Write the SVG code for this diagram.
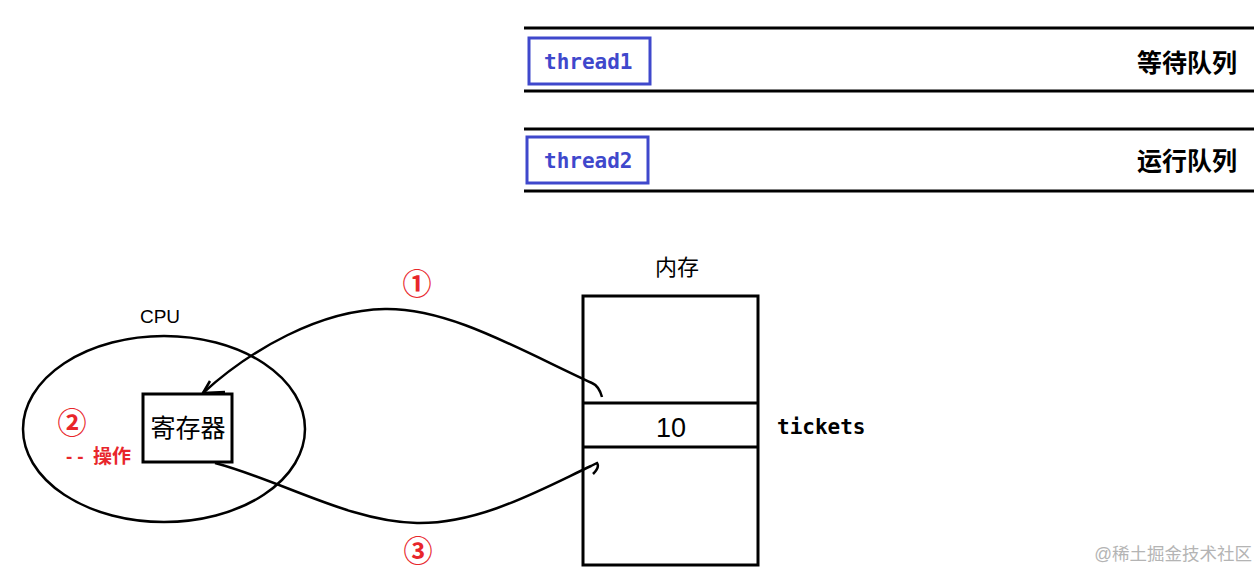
<svg xmlns="http://www.w3.org/2000/svg" width="1258" height="571" viewBox="0 0 1258 571">
<style>
.ln{stroke:#000;stroke-width:3;fill:none}
.thin{stroke:#000;stroke-width:2.5;fill:none}
.tb{fill:none;stroke:#3f48cc;stroke-width:3}
.tt{font-family:"DejaVu Sans Mono","Liberation Mono",monospace;font-size:21px;font-weight:bold;fill:#3f48cc}
.q{font-family:"Liberation Sans","Noto Sans CJK SC",sans-serif;font-size:25px;font-weight:bold;fill:#000}
.cj{font-family:"Liberation Sans","Noto Sans CJK SC",sans-serif;fill:#000}
.red{fill:#e8262b;font-family:"Liberation Sans","Noto Sans CJK SC",sans-serif}
</style>
<rect width="1258" height="571" fill="#fff"/>
<g id="wait-queue">
<line class="ln" x1="524" y1="28" x2="1254" y2="28"/>
<line class="ln" x1="524" y1="91" x2="1254" y2="91"/>
<rect class="tb" x="529" y="38" width="121" height="46"/>
<text class="tt" x="544" y="69">thread1</text>
<text class="q" x="1237" y="72" text-anchor="end">等待队列</text>
</g>
<g id="run-queue">
<line class="ln" x1="524" y1="129" x2="1254" y2="129"/>
<line class="ln" x1="524" y1="191" x2="1254" y2="191"/>
<rect class="tb" x="527" y="137" width="121" height="46"/>
<text class="tt" x="544" y="168">thread2</text>
<text class="q" x="1237" y="170" text-anchor="end">运行队列</text>
</g>
<g id="cpu">
<ellipse class="thin" cx="164" cy="429" rx="141" ry="93"/>
<text class="cj" x="160" y="323" font-size="19" text-anchor="middle">CPU</text>
<text class="red" x="72" y="434" font-size="29" font-weight="bold" text-anchor="middle">②</text>
<text class="red" y="463" font-size="19" font-weight="bold"><tspan x="66" letter-spacing="5">--</tspan><tspan x="93">操作</tspan></text>
</g>
<g id="register">
<rect class="ln" x="143" y="394" width="89" height="68"/>
<text class="cj" x="188" y="437" font-size="25" text-anchor="middle">寄存器</text>
</g>
<g id="memory">
<text class="cj" x="677" y="275" font-size="22" text-anchor="middle">内存</text>
<rect class="ln" x="583" y="296" width="175" height="269"/>
<line class="ln" x1="583" y1="403" x2="758" y2="403"/>
<line class="ln" x1="583" y1="447" x2="758" y2="447"/>
<text class="cj" x="671" y="437" font-size="27" text-anchor="middle">10</text>
<text class="tt" x="777" y="434" style="fill:#000">tickets</text>
</g>
<g id="connectors">
<path class="thin" d="M 602 397 Q 599 386 592 383 C 520 350 450 308 385 309 C 320 310 250 350 203 393"/>
<path class="thin" d="M 210 381 L 203 393 L 225 392"/>
<path class="thin" d="M 215 463 C 280 480 350 522 417 523 C 480 524 540 490 591 466 L 597 463 Q 600 467 593 474"/>
<text class="red" x="417" y="295" font-size="29" font-weight="bold" text-anchor="middle">①</text>
<text class="red" x="418" y="562" font-size="29" font-weight="bold" text-anchor="middle">③</text>
</g>
<text x="1252" y="560" text-anchor="end" font-family="Liberation Sans,'Noto Sans CJK SC',sans-serif" font-size="17.5" fill="#b4b4b4">@稀土掘金技术社区</text>
</svg>
